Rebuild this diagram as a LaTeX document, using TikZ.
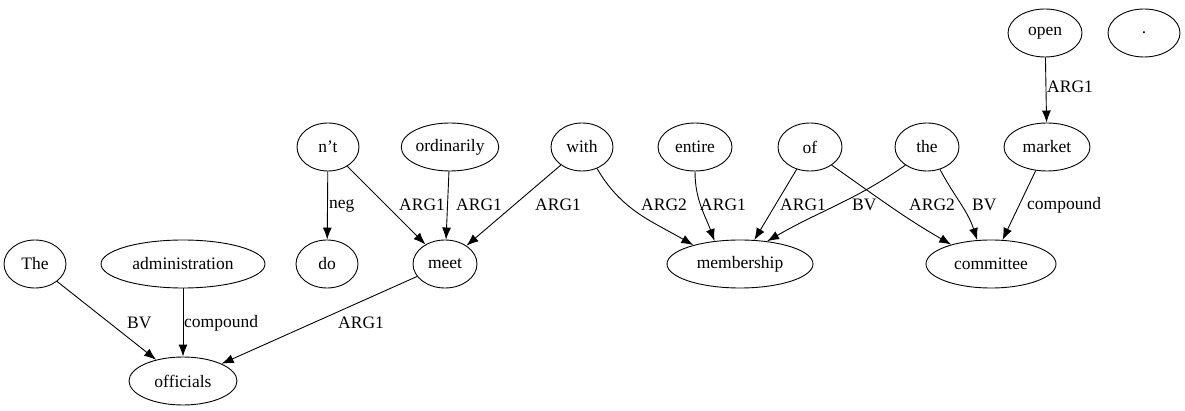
\documentclass[tikz,border=0pt]{standalone}
\usepackage{fontspec}
\setmainfont{Liberation Serif}
\usetikzlibrary{shapes.geometric,arrows.meta}
\begin{document}
\begin{tikzpicture}[x=1pt,y=-1pt,
  wn/.style={ellipse,draw,line width=0.9pt,inner sep=0pt,minimum height=48pt,font=\fontsize{17.5}{20}\selectfont},
  lbl/.style={anchor=west,inner sep=0pt,font=\fontsize{17.5}{20}\selectfont},
  edge/.style={draw,line width=0.9pt,-{Latex[length=12pt,width=9pt]}}]
\useasboundingbox (0,0) rectangle (1185,411);
% nodes
\node[wn,minimum width=74pt] (open) at (1045,33) {open};
\node[wn,minimum width=72pt] (dot) at (1144,33) {.};
\node[wn,minimum width=62pt] (nt) at (328,147) {n’t};
\node[wn,minimum width=96pt] (ordinarily) at (450,147) {ordinarily};
\node[wn,minimum width=62pt] (with) at (582,147) {with};
\node[wn,minimum width=74pt] (entire) at (695,147) {entire};
\node[wn,minimum width=64pt] (of) at (810,147) {of};
\node[wn,minimum width=64pt] (the) at (927,147) {the};
\node[wn,minimum width=86pt] (market) at (1047,147) {market};
\node[wn,minimum width=62pt] (The) at (35,264) {The};
\node[wn,minimum width=164pt] (admin) at (183,264) {administration};
\node[wn,minimum width=62pt] (do) at (327,264) {do};
\node[wn,minimum width=64pt] (meet) at (445,264) {meet};
\node[wn,minimum width=146pt] (membership) at (740,264) {membership};
\node[wn,minimum width=130pt] (committee) at (991,264) {committee};
\node[wn,minimum width=108pt] (officials) at (183,381) {officials};
% edges
\path[edge] (open) -- (market);
\path[edge] (nt) -- (do);
\path[edge] (nt) -- (meet);
\path[edge] (ordinarily) -- (meet);
\path[edge] (with) -- (meet);
\path[edge] (with.-55) to[out=-60,in=150] (membership.158);
\path[edge] (entire) to[out=-90,in=110] (membership.138);
\path[edge] (of) -- (membership);
\path[edge] (the.-140) to[out=-145,in=30] (membership.40);
\path[edge] (of.-40) to[out=-35,in=150] (committee.154);
\path[edge] (the.-60) to[out=-62,in=108] (committee.120);
\path[edge] (market) -- (committee);
\path[edge] (The) -- (officials);
\path[edge] (admin) -- (officials);
\path[edge] (meet) -- (officials);
% labels
\node[lbl] (l1) at (1047,87) {ARG1};
\node[lbl] (l2) at (329,206) {neg};
\node[lbl] (l3) at (399,205) {ARG1};
\node[lbl] (l4) at (456,205) {ARG1};
\node[lbl] (l5) at (535,205) {ARG1};
\node[lbl] (l6) at (641,205) {ARG2};
\node[lbl] (l7) at (700,205) {ARG1};
\node[lbl] (l8) at (780,205) {ARG1};
\node[lbl] (l9) at (852,205) {BV};
\node[lbl] (l10) at (909,205) {ARG2};
\node[lbl] (l11) at (972,205) {BV};
\node[lbl] (l12) at (1027,205) {compound};
\node[lbl] (l13) at (127,323) {BV};
\node[lbl] (l14) at (184,323) {compound};
\node[lbl] (l15) at (338,323) {ARG1};
\end{tikzpicture}
\end{document}
